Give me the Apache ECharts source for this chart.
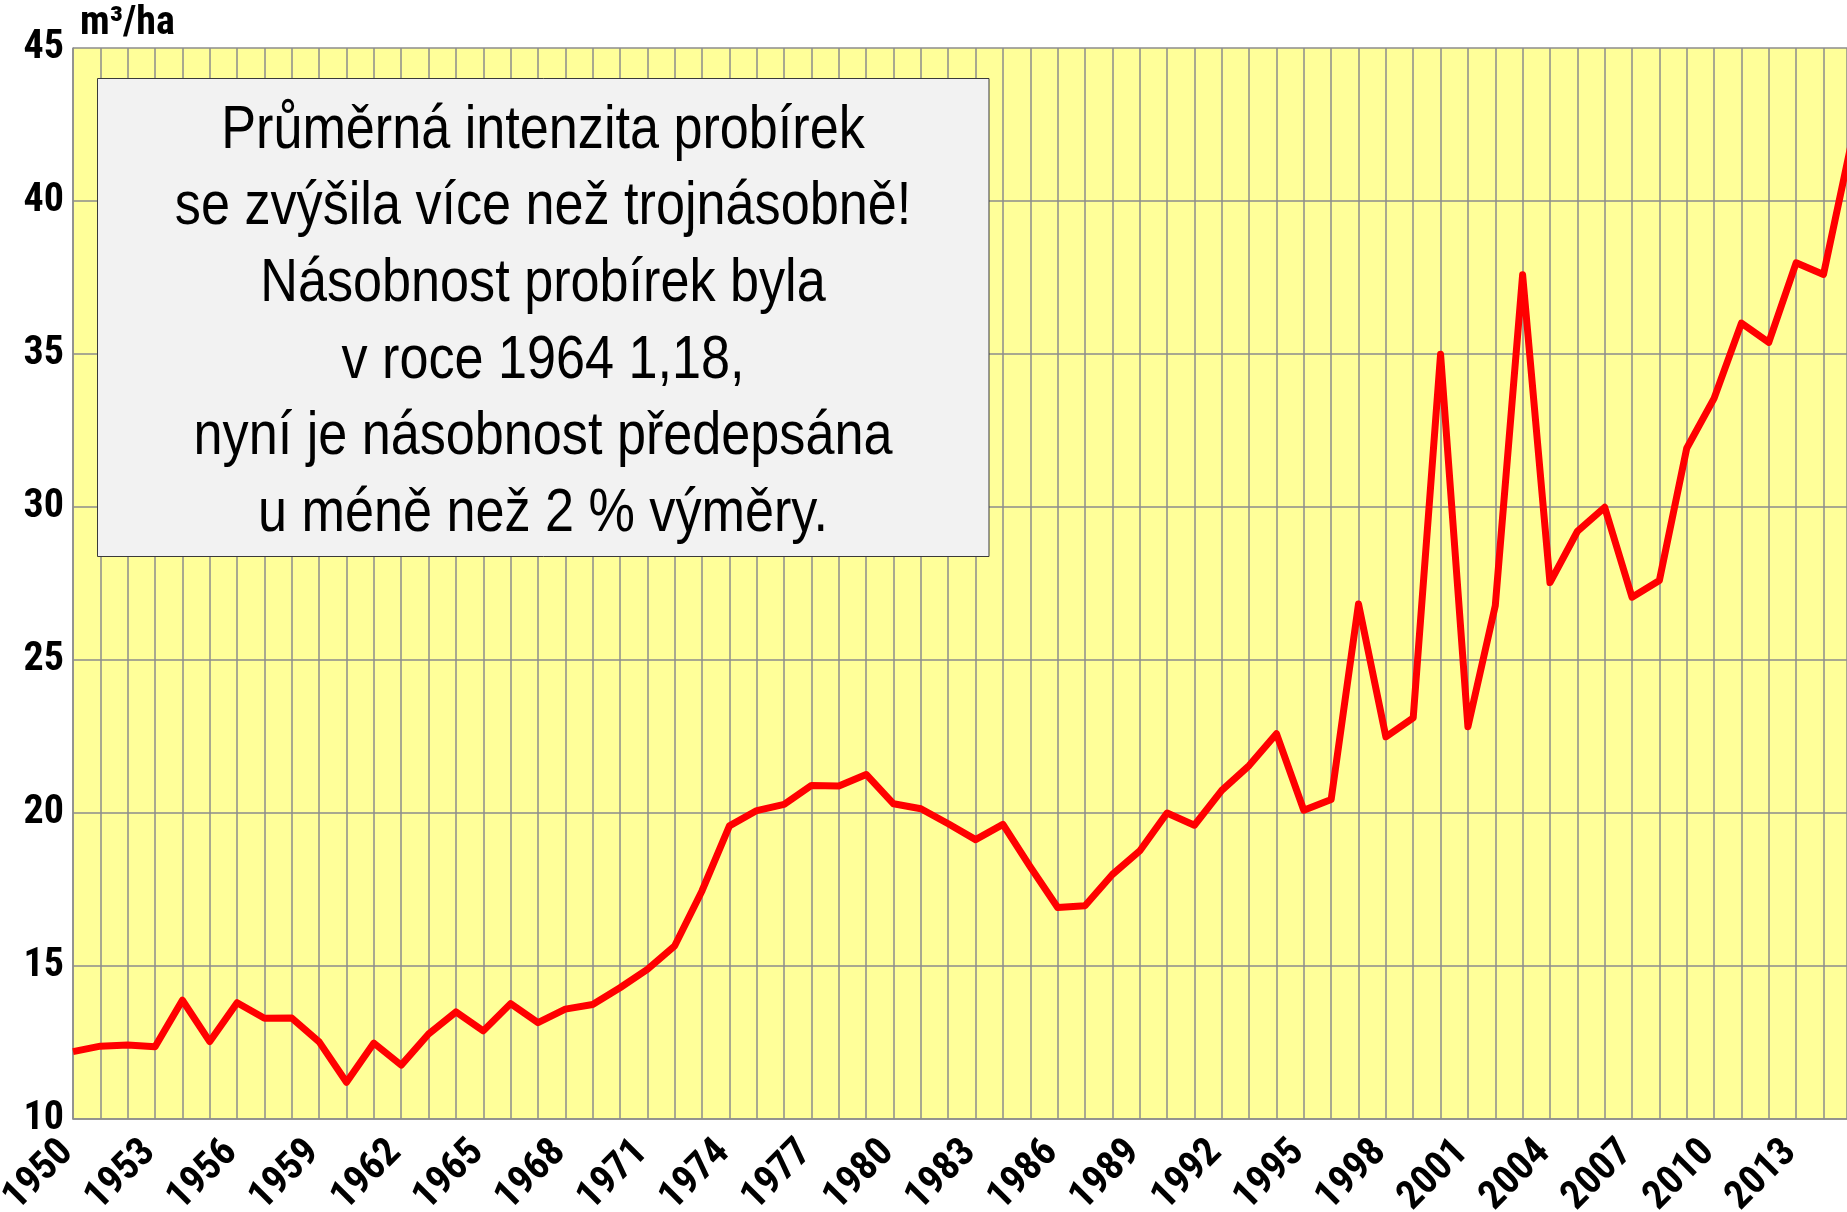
<!DOCTYPE html>
<html>
<head>
<meta charset="utf-8">
<script src="https://cdn.jsdelivr.net/npm/echarts@6/dist/echarts.min.js"></script>
<style>
html,body{margin:0;padding:0;background:#fff;}
#chart{width:1847px;height:1212px;}
</style>
</head>
<body>
<div id="chart"></div>
<script>
var years = [1950,1951,1952,1953,1954,1955,1956,1957,1958,1959,
             1960,1961,1962,1963,1964,1965,1966,1967,1968,1969,
             1970,1971,1972,1973,1974,1975,1976,1977,1978,1979,
             1980,1981,1982,1983,1984,1985,1986,1987,1988,1989,
             1990,1991,1992,1993,1994,1995,1996,1997,1998,1999,
             2000,2001,2002,2003,2004,2005,2006,2007,2008,2009,
             2010,2011,2012,2013,2014,2015];
var values = [12.20,12.38,12.42,12.36,13.88,12.53,13.80,13.29,13.30,12.52,
              11.20,12.48,11.76,12.78,13.50,12.88,13.77,13.15,13.59,13.74,
              14.29,14.89,15.66,17.46,19.58,20.08,20.28,20.90,20.88,21.26,
              20.30,20.14,19.65,19.13,19.63,18.24,16.91,16.97,17.99,18.76,
              20.00,19.60,20.74,21.55,22.59,20.09,20.44,26.83,22.49,23.11,
              34.99,22.82,26.77,37.59,27.53,29.20,29.99,27.05,27.60,31.92,
              33.55,36.01,35.38,37.98,37.60,41.80];
var xTickLabels = ['1950','1953','1956','1959','1962','1965','1968','1971','1974','1977',
                   '1980','1983','1986','1989','1992','1995','1998','2001','2004','2007',
                   '2010','2013'];
var yTicks = [10,15,20,25,30,35,40,45];
var unitLabel = 'm³/ha';
var noteLines = ['Průměrná intenzita probírek',
                 'se zvýšila více než trojnásobně!',
                 'Násobnost probírek byla',
                 'v roce 1964 1,18,',
                 'nyní je násobnost předepsána',
                 'u méně než 2 % výměry.'];

var AXIS_FONT = '"Roboto Condensed", Roboto, sans-serif';
var NOTE_FONT = '"Liberation Sans", Arial, sans-serif';
var GRID_COLOR = '#8c8c8c';

var seriesData = years.map(function (y, i) { return [y, values[i]]; });

var noteGraphics = [{
  type: 'rect',
  shape: {x: 97.5, y: 78.5, width: 891.5, height: 478},
  style: {fill: '#f2f2f2', stroke: '#3a3a3a', lineWidth: 1},
  z: 100
}];
noteLines.forEach(function (t, i) {
  noteGraphics.push({
    type: 'text',
    x: 543, y: 131 + i * 76.6,
    scaleX: 0.855,
    style: {text: t, x: 0, y: 0, fill: '#000', font: 'normal 61px ' + NOTE_FONT,
            textAlign: 'center', textVerticalAlign: 'middle'},
    z: 101
  });
});
noteGraphics.push({
  type: 'text',
  x: 80, y: 23.5,
  style: {text: unitLabel, fill: '#000', font: 'bold 40px ' + AXIS_FONT,
          textAlign: 'left', textVerticalAlign: 'middle'},
  z: 101
});

var chart = echarts.init(document.getElementById('chart'), null, {renderer: 'canvas'});
chart.setOption({
  animation: false,
  backgroundColor: '#ffffff',
  grid: {left: 73, top: 48, right: 0, bottom: 93, show: true,
         containLabel: false, outerBoundsMode: 'none',
         backgroundColor: '#ffff99', borderWidth: 0},
  xAxis: {
    type: 'value', min: 1950, max: 2014.86, interval: 1,
    axisLine: {show: true, lineStyle: {color: GRID_COLOR, width: 1.5}},
    axisTick: {show: false},
    splitLine: {show: true, lineStyle: {color: GRID_COLOR, width: 1.5}},
    axisLabel: {
      rotate: 45, margin: 22, padding: [0, 8, 0, 0],
      fontFamily: AXIS_FONT, fontWeight: 'bold', fontSize: 40, color: '#000',
      formatter: function (v) {
        var s = String(Math.round(v));
        return (Math.abs(v - Math.round(v)) < 1e-6 && xTickLabels.indexOf(s) >= 0) ? s : '';
      }
    }
  },
  yAxis: {
    type: 'value', min: yTicks[0], max: yTicks[yTicks.length - 1], interval: 5,
    axisLine: {show: true, lineStyle: {color: GRID_COLOR, width: 1.5}},
    axisTick: {show: false},
    splitLine: {show: true, lineStyle: {color: GRID_COLOR, width: 1.5}},
    axisLabel: {
      margin: 9, padding: [4, 0, 0, 0],
      fontFamily: AXIS_FONT, fontWeight: 'bold', fontSize: 40, color: '#000'
    }
  },
  series: [{
    type: 'line',
    data: seriesData,
    showSymbol: false,
    clip: true,
    lineStyle: {color: '#ff0000', width: 7, join: 'round'},
    z: 5
  }],
  graphic: noteGraphics
});
</script>
</body>
</html>
